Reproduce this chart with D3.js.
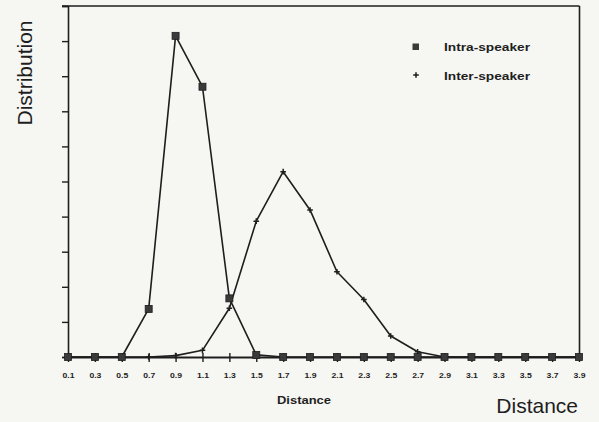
<!DOCTYPE html>
<html>
<head>
<meta charset="utf-8">
<script src="https://cdn.jsdelivr.net/npm/d3@7"></script>
<style>
  html, body { margin: 0; padding: 0; background: #f6f6f2; }
  svg { display: block; }
  text { font-family: "Liberation Sans", Arial, sans-serif; fill: #1e1e1e; }
</style>
</head>
<body>
<svg id="chart" width="599" height="422"></svg>
<script>
// Distance bins (tick labels)
const distances = ["0.1","0.3","0.5","0.7","0.9","1.1","1.3","1.5","1.7","1.9",
                   "2.1","2.3","2.5","2.7","2.9","3.1","3.3","3.5","3.7","3.9"];
// Distribution of intra-speaker distances
const intraSpeaker = [0, 0, 0, 1.37, 9.15, 7.70, 1.67, 0.06, 0, 0,
                      0, 0, 0, 0, 0, 0, 0, 0, 0, 0];
// Distribution of inter-speaker distances
const interSpeaker = [0, 0, 0, 0, 0.04, 0.19, 1.39, 3.87, 5.28, 4.19,
                      2.43, 1.64, 0.60, 0.15, 0, 0, 0, 0, 0, 0];
const yTicks = [0, 1, 2, 3, 4, 5, 6, 7, 8, 9, 10];
const seriesNames = ["Intra-speaker", "Inter-speaker"];

const svg = d3.select("#chart");
const ink = "#1e1e1e";

const x = d3.scalePoint().domain(distances).range([68, 579]);
const y = d3.scaleLinear().domain([0, 10]).range([357, 6]);

// Frame: top and right borders
svg.append("line").attr("x1", 62).attr("x2", 579.5).attr("y1", y(10)).attr("y2", y(10))
  .attr("stroke", ink).attr("stroke-width", 1.6);
svg.append("line").attr("x1", 579.5).attr("x2", 579.5).attr("y1", y(10)).attr("y2", y(0))
  .attr("stroke", ink).attr("stroke-width", 1.6);

// Left axis with unlabeled ticks
const yAxis = svg.append("g").attr("transform", "translate(68,0)")
  .call(d3.axisLeft(y).tickValues(yTicks).tickSize(6).tickFormat(""));
yAxis.select(".domain").attr("stroke", ink).attr("stroke-width", 1.6);
yAxis.selectAll(".tick line").attr("stroke", ink).attr("stroke-width", 1.4);

// Bottom axis: crossing ticks and labels
const xAxis = svg.append("g").attr("transform", `translate(0,${y(0)})`)
  .call(d3.axisBottom(x).tickSize(0).tickPadding(0));
xAxis.select(".domain").attr("stroke", ink).attr("stroke-width", 1.8);
xAxis.selectAll(".tick line").attr("y1", -4).attr("y2", 5)
  .attr("stroke", ink).attr("stroke-width", 1.4);
xAxis.selectAll(".tick text")
  .attr("y", 21).attr("dy", null)
  .style("font-family", "'Liberation Sans', Arial, sans-serif")
  .style("font-size", "7.5px").style("font-weight", "bold")
  .attr("fill", ink)
  .attr("textLength", 12).attr("lengthAdjust", "spacingAndGlyphs");

const line = d3.line().x((d, i) => x(distances[i])).y(d => y(d));

// Inter-speaker line and plus markers
svg.append("path").datum(interSpeaker).attr("d", line)
  .attr("fill", "none").attr("stroke", ink).attr("stroke-width", 1.6)
  .attr("stroke-linejoin", "round");
const plus = (g, cx, cy, r) => {
  g.append("path")
    .attr("d", `M${cx - r},${cy}H${cx + r}M${cx},${cy - r}V${cy + r}`)
    .attr("stroke", ink).attr("stroke-width", 1.5);
};
const interMarks = svg.append("g");
interSpeaker.forEach((v, i) => plus(interMarks, x(distances[i]), y(v), 2.8));

// Intra-speaker line and square markers
svg.append("path").datum(intraSpeaker).attr("d", line)
  .attr("fill", "none").attr("stroke", ink).attr("stroke-width", 1.6)
  .attr("stroke-linejoin", "round");
svg.append("g").selectAll("rect").data(intraSpeaker).join("rect")
  .attr("x", (d, i) => x(distances[i]) - 3.5)
  .attr("y", d => y(d) - 3.5)
  .attr("width", 7).attr("height", 7)
  .attr("fill", "#3a3a3a").attr("stroke", ink).attr("stroke-width", 0.8);

// Legend
const legend = svg.append("g");
legend.append("rect").attr("x", 412.5).attr("y", 43.5).attr("width", 6.5).attr("height", 6.5)
  .attr("fill", "#3a3a3a");
plus(legend, 416, 75, 2.8);
legend.selectAll("text").data(seriesNames).join("text")
  .attr("x", 444).attr("y", (d, i) => 51 + i * 29)
  .style("font-size", "11px").style("font-weight", "bold")
  .attr("textLength", 86).attr("lengthAdjust", "spacingAndGlyphs")
  .text(d => d);

// Axis titles
svg.append("text").attr("x", 304).attr("y", 404).attr("text-anchor", "middle")
  .style("font-size", "11px").style("font-weight", "bold")
  .attr("textLength", 54).attr("lengthAdjust", "spacingAndGlyphs")
  .text("Distance");
svg.append("text").attr("x", 578).attr("y", 413).attr("text-anchor", "end")
  .style("font-size", "21px")
  .text("Distance");
svg.append("text").attr("transform", "translate(32,73) rotate(-90)")
  .attr("text-anchor", "middle")
  .style("font-size", "21px")
  .text("Distribution");
</script>
</body>
</html>
